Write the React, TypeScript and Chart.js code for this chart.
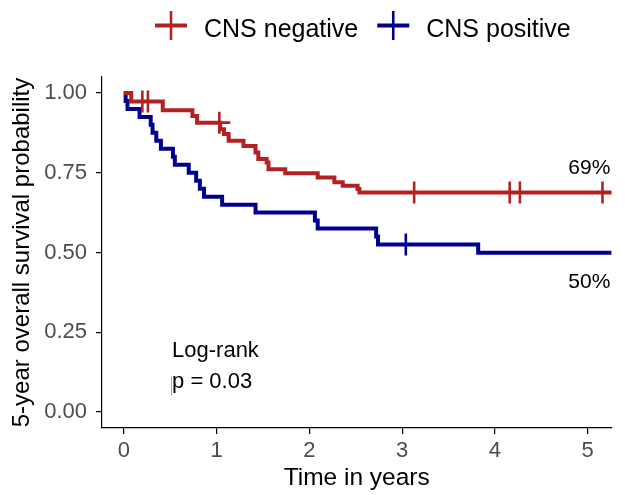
import React, { useEffect, useRef } from "react";
import { Chart, registerables } from "chart.js";

Chart.register(...registerables);

// ---------- data ----------
const groupLabels = ["CNS negative", "CNS positive"];
const groupColors = ["#B22222", "#00008B"];

// CNS negative: event times (years) and survival after each step
const negTimes = [0, 0.08, 0.42, 0.74, 0.79, 1.04, 1.08, 1.13, 1.29, 1.42, 1.45, 1.54, 1.56, 1.74, 2.09, 2.27, 2.36, 2.52, 2.54, 5.5];
const negSurv = [1, 0.973, 0.946, 0.928, 0.907, 0.886, 0.871, 0.85, 0.834, 0.813, 0.793, 0.782, 0.761, 0.748, 0.735, 0.72, 0.709, 0.699, 0.688, 0.688];
const negCensor = [0.2, 0.26, 1.03, 3.13, 4.16, 4.27, 5.16];

// CNS positive
const posTimes = [0, 0.02, 0.04, 0.17, 0.29, 0.31, 0.35, 0.4, 0.53, 0.55, 0.7, 0.78, 0.82, 0.865, 1.06, 1.42, 2.06, 2.09, 2.72, 2.74, 3.82, 5.5];
const posSurv = [1, 0.975, 0.95, 0.925, 0.9, 0.875, 0.85, 0.825, 0.8, 0.775, 0.75, 0.725, 0.7, 0.675, 0.65, 0.625, 0.6, 0.575, 0.55, 0.525, 0.499, 0.499];
const posCensor = [3.04];

const xTicks = [0, 1, 2, 3, 4, 5];
const yTicks = [0, 0.25, 0.5, 0.75, 1];
const xTitle = "Time in years";
const yTitle = "5-year overall survival probability";
const annotationLines = ["Log-rank", "p = 0.03"];

const FONT = '"Liberation Sans", Arial, Helvetica, sans-serif';

function survAt(times: number[], surv: number[], t: number): number {
  let s = surv[0];
  for (let i = 0; i < times.length; i++) {
    if (times[i] <= t) s = surv[i];
  }
  return s;
}

const overlayPlugin = {
  id: "overlay",
  afterDraw(chart: any) {
    const { ctx, chartArea } = chart;
    const x = chart.scales.x;
    const y = chart.scales.y;
    ctx.save();

    // end-of-curve percentage labels
    ctx.font = `21px ${FONT}`;
    ctx.fillStyle = "#000";
    ctx.textAlign = "right";
    ctx.textBaseline = "alphabetic";
    const negEnd = negSurv[negSurv.length - 1];
    const posEnd = posSurv[posSurv.length - 1];
    ctx.fillText(`${Math.round(negEnd * 100)}%`, chartArea.right - 1, y.getPixelForValue(negEnd) - 19);
    ctx.fillText(`${Math.round(posEnd * 100)}%`, chartArea.right - 1, y.getPixelForValue(posEnd) + 35);

    // log-rank annotation
    ctx.textAlign = "left";
    ctx.font = `22px ${FONT}`;
    const ax = x.getPixelForValue(0.52);
    const ay = y.getPixelForValue(0.172);
    ctx.fillText(annotationLines[0], ax, ay);
    ctx.fillText(annotationLines[1], ax, ay + 31);
    ctx.strokeStyle = "#b9a98a";
    ctx.lineWidth = 1;
    ctx.beginPath();
    ctx.moveTo(ax - 0.5, ay + 19);
    ctx.lineTo(ax - 0.5, ay + 38);
    ctx.stroke();

    // legend
    ctx.font = `25px ${FONT}`;
    ctx.textBaseline = "alphabetic";
    let lx = 155;
    const ly = 25.5;
    groupLabels.forEach((label, i) => {
      ctx.strokeStyle = groupColors[i];
      ctx.lineWidth = 4;
      ctx.beginPath();
      ctx.moveTo(lx, ly);
      ctx.lineTo(lx + 32, ly);
      ctx.stroke();
      ctx.lineWidth = 2.6;
      ctx.beginPath();
      ctx.moveTo(lx + 16, ly - 14.5);
      ctx.lineTo(lx + 16, ly + 14.5);
      ctx.stroke();
      ctx.fillStyle = "#000";
      ctx.fillText(label, lx + 49, 37);
      lx += 49 + ctx.measureText(label).width + 19;
    });
    ctx.restore();
  },
};

export default function App() {
  const canvasRef = useRef<HTMLCanvasElement | null>(null);

  useEffect(() => {
    const canvas = canvasRef.current;
    if (!canvas) return;

    const curve = (times: number[], surv: number[], color: string) => ({
      type: "line" as const,
      data: times.map((t, i) => ({ x: t, y: surv[i] })),
      borderColor: color,
      backgroundColor: color,
      borderWidth: 4,
      stepped: true,
      pointRadius: 0,
      fill: false,
      order: 2,
    });
    const censor = (pts: number[], times: number[], surv: number[], color: string) => ({
      type: "scatter" as const,
      data: pts.map((t) => ({ x: t, y: survAt(times, surv, t) })),
      borderColor: color,
      backgroundColor: color,
      pointStyle: "cross",
      pointRadius: 11,
      pointBorderWidth: 2.6,
      showLine: false,
      order: 1,
    });

    const chart = new Chart(canvas, {
      type: "line",
      data: {
        datasets: [
          curve(negTimes, negSurv, groupColors[0]),
          curve(posTimes, posSurv, groupColors[1]),
          censor(negCensor, negTimes, negSurv, groupColors[0]),
          censor(posCensor, posTimes, posSurv, groupColors[1]),
        ] as any,
      },
      options: {
        animation: false,
        responsive: false,
        devicePixelRatio: 1,
        layout: { padding: { top: 77, right: 9, left: 0, bottom: 0 } },
        plugins: { legend: { display: false }, tooltip: { enabled: false } },
        scales: {
          x: {
            type: "linear",
            min: -0.235,
            max: 5.256,
            afterFit: (s: any) => {
              s.height = 67;
            },
            afterBuildTicks: (s: any) => {
              s.ticks = xTicks.map((v) => ({ value: v }));
            },
            grid: { display: true, drawOnChartArea: false, drawTicks: true, tickLength: 6, color: "#000", lineWidth: 1.2 },
            border: { display: true, color: "#000", width: 1.2 },
            ticks: {
              color: "#4D4D4D",
              font: { family: FONT, size: 22 },
              padding: 4,
              maxRotation: 0,
              autoSkip: false,
              callback: (v: any) => String(v),
            },
            title: {
              display: true,
              text: xTitle,
              color: "#000",
              font: { family: FONT, size: 24.5 },
              padding: { top: 0, bottom: 2 },
            },
          },
          y: {
            type: "linear",
            min: -0.05,
            max: 1.05,
            afterFit: (s: any) => {
              s.width = 102;
            },
            afterBuildTicks: (s: any) => {
              s.ticks = yTicks.map((v) => ({ value: v }));
            },
            grid: { display: true, drawOnChartArea: false, drawTicks: true, tickLength: 6, color: "#000", lineWidth: 1.2 },
            border: { display: true, color: "#000", width: 1.2 },
            ticks: {
              color: "#4D4D4D",
              font: { family: FONT, size: 22 },
              padding: 9,
              autoSkip: false,
              callback: (v: any) => Number(v).toFixed(2),
            },
            title: {
              display: true,
              text: yTitle,
              color: "#000",
              font: { family: FONT, size: 24 },
              padding: { top: 8, bottom: 0 },
            },
          },
        },
      },
      plugins: [overlayPlugin],
    } as any);

    return () => chart.destroy();
  }, []);

  return (
    <div style={{ position: "absolute", left: 0, top: 0, width: 625, height: 495, background: "#fff" }}>
      <canvas ref={canvasRef} width={625} height={495} style={{ display: "block", width: 625, height: 495 }} />
    </div>
  );
}
